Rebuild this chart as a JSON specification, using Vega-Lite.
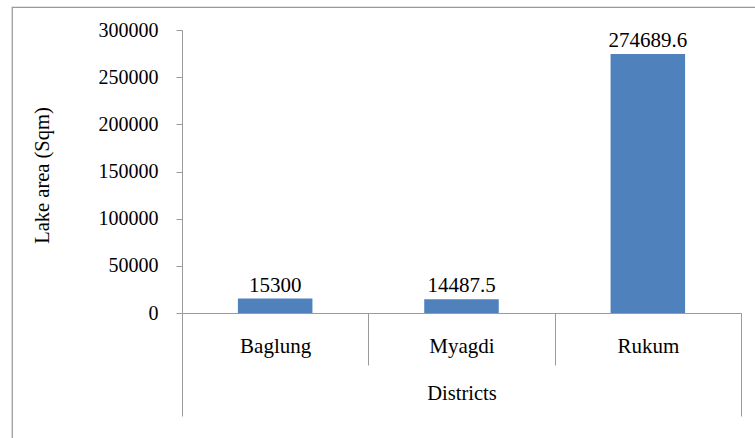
{
  "$schema": "https://vega.github.io/schema/vega-lite/v6.json",
  "width": 753,
  "height": 441,
  "autosize": {"type": "none"},
  "padding": {"left": 12, "top": 7, "right": 0, "bottom": 0},
  "background": "white",
  "config": {
    "view": {"stroke": "#999999", "strokeWidth": 1.25},
    "font": "Liberation Serif",
    "axis": {
      "labelFont": "Liberation Serif",
      "titleFont": "Liberation Serif",
      "labelFontSize": 20,
      "titleFontSize": 20.5,
      "labelColor": "#000000",
      "titleColor": "#000000",
      "titleFontWeight": "normal",
      "grid": false,
      "domainColor": "#9a9a9a",
      "tickColor": "#9a9a9a"
    }
  },
  "data": {
    "values": [
      {"district": "Baglung", "area": 15300},
      {"district": "Myagdi", "area": 14487.5},
      {"district": "Rukum", "area": 274689.6}
    ]
  },
  "layer": [
    {
      "layer": [
        {
          "mark": {"type": "bar", "color": "#4F81BD", "width": {"band": 0.4}},
          "encoding": {
            "x": {
              "field": "district",
              "type": "nominal",
              "sort": null,
              "scale": {"paddingInner": 0, "paddingOuter": 0, "range": [170, 729]},
              "axis": {
                "title": null,
                "orient": "bottom",
                "offset": -135,
                "labelAngle": 0,
                "labelFontSize": 21,
                "tickBand": "extent",
                "tickSize": 52,
                "labelPadding": -13,
                "labelBaseline": "alphabetic"
              }
            },
            "y": {
              "field": "area",
              "type": "quantitative",
              "scale": {"domain": [0, 300000], "nice": false, "range": [306, 23]},
              "axis": {
                "title": "Lake area (Sqm)",
                "offset": -170,
                "values": [0, 50000, 100000, 150000, 200000, 250000, 300000],
                "format": "d",
                "tickSize": 6,
                "labelPadding": 18,
                "titleX": -134,
                "titleY": 168,
                "titleBaseline": "alphabetic"
              }
            }
          }
        },
        {
          "mark": {"type": "text", "baseline": "alphabetic", "dy": -7, "fontSize": 21, "font": "Liberation Serif", "color": "#000000"},
          "encoding": {
            "x": {"field": "district", "type": "nominal", "sort": null},
            "y": {"field": "area", "type": "quantitative"},
            "text": {"field": "area", "type": "nominal"}
          }
        }
      ]
    },
    {
      "mark": {"type": "rule", "opacity": 0},
      "encoding": {
        "x": {
          "datum": 0,
          "type": "quantitative",
          "scale": {"domain": [0, 3], "nice": false, "zero": false, "range": [170, 729]},
          "axis": {
            "orient": "bottom",
            "offset": -135,
            "values": [0, 3],
            "tickSize": 103,
            "labels": false,
            "domain": false,
            "title": "Districts",
            "titleY": 86,
            "titleBaseline": "alphabetic"
          }
        }
      }
    }
  ],
  "resolve": {"scale": {"x": "independent"}, "axis": {"x": "independent"}}
}
